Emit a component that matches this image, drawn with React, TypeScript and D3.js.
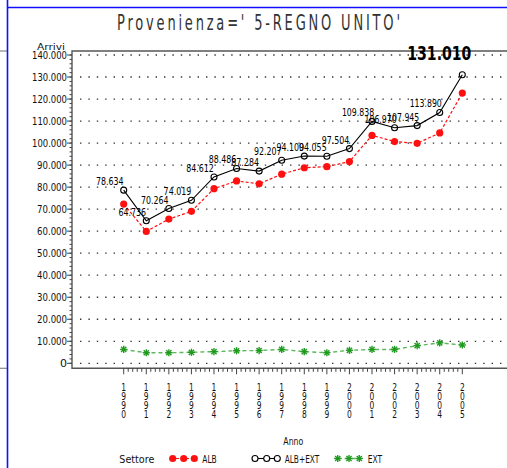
import React from 'react';
import * as d3 from 'd3';

const years = [1990, 1991, 1992, 1993, 1994, 1995, 1996, 1997, 1998, 1999, 2000, 2001, 2002, 2003, 2004, 2005];
const albExt = [78634, 64736, 70264, 74019, 84612, 88486, 87284, 92207, 94100, 94055, 97504, 109838, 106970, 107945, 113890, 131010];
const alb = [72300, 59900, 65500, 69000, 79300, 82800, 81500, 85900, 88800, 89300, 91600, 103500, 100700, 99900, 104600, 122700];
const ext = [6300, 4800, 4800, 5000, 5300, 5700, 5800, 6300, 5300, 4800, 5900, 6300, 6300, 8000, 9300, 8300];
const yTicks = [0, 10000, 20000, 30000, 40000, 50000, 60000, 70000, 80000, 90000, 100000, 110000, 120000, 130000, 140000];
const yMinor = d3.range(0, 140001, 2000);
const xMinor = d3.range(0, 76).map((i) => 1990 + i * 0.2);

const title = "Provenienza=' 5-REGNO UNITO'";
const yTitle = 'Arrivi';
const xTitle = 'Anno';
const legendTitle = 'Settore';
const seriesNames = ['ALB', 'ALB+EXT', 'EXT'];

const fmt = (v: number) => d3.format(',')(v).replace(/,/g, '.');

const FONT = "'DejaVu Sans', sans-serif";

function Star({ x, y, c }: { x: number; y: number; c: string }) {
  const s = 3.6;
  const d = s * 0.72;
  return (
    <g stroke={c} strokeWidth={1.4}>
      <line x1={x - s} y1={y} x2={x + s} y2={y} />
      <line x1={x} y1={y - s} x2={x} y2={y + s} />
      <line x1={x - d} y1={y - d} x2={x + d} y2={y + d} />
      <line x1={x - d} y1={y + d} x2={x + d} y2={y - d} />
    </g>
  );
}

export default function App() {
  const W = 507;
  const H = 468;
  const x = d3.scaleLinear().domain([1990, 2005]).range([123.7, 462.3]);
  const y = d3.scaleLinear().domain([0, 140000]).range([363.3, 55]);
  const frameL = 72;
  const frameT = 51;
  const frameB = 368.3;

  const line = d3
    .line<number>()
    .x((_, i) => x(years[i]))
    .y((d) => y(d));

  const red = '#ff1010';
  const green = '#1f9a1f';
  const greenLine = '#5cb85c';
  const sx = 0.62;

  return (
    <svg
      width={W}
      height={H}
      style={{ position: 'fixed', left: 0, top: 0, background: '#fff' }}
      fontFamily={FONT}
    >
      <rect x={0} y={0} width={W} height={H} fill="#fff" />
      {/* neighbouring panel edges */}
      <line x1={0} y1={frameT} x2={7} y2={frameT} stroke="#888" strokeWidth={1.2} />
      <line x1={0} y1={frameB} x2={7} y2={frameB} stroke="#888" strokeWidth={1.2} />
      {/* blue page borders */}
      <line x1={7.5} y1={7.5} x2={W} y2={7.5} stroke="#1010ff" strokeWidth={1.6} />
      <line x1={7.5} y1={0} x2={7.5} y2={H} stroke="#1010ff" strokeWidth={1.6} />

      {/* title */}
      <text
        transform={`translate(117,29.5) scale(${sx},1)`}
        x={0}
        y={0}
        fontSize={21}
        textLength={283 / sx}
        lengthAdjust="spacing"
        fill="#333"
      >
        {title}
      </text>

      {/* gridlines */}
      {yTicks.map((t) => (
        <line
          key={'g' + t}
          x1={frameL + 8}
          x2={W}
          y1={y(t)}
          y2={y(t)}
          stroke="#333"
          strokeWidth={1.3}
          strokeDasharray="1.4 7"
        />
      ))}

      {/* frame */}
      <path
        d={`M${W},${frameT}H${frameL}V${frameB}H${W}`}
        fill="none"
        stroke="#555"
        strokeWidth={1.4}
      />

      {/* y ticks */}
      {yMinor.map((t) => (
        <line key={'ym' + t} x1={frameL - 2.5} x2={frameL} y1={y(t)} y2={y(t)} stroke="#444" strokeWidth={1} />
      ))}
      {yTicks.map((t) => (
        <g key={'yt' + t}>
          <line x1={frameL - 5} x2={frameL} y1={y(t)} y2={y(t)} stroke="#444" strokeWidth={1} />
          <text
            x={67}
            y={y(t) + 4}
            textAnchor="end"
            fontSize={11}
            fill="#111"
            {...(t > 0 ? { textLength: fmt(t).length * 5, lengthAdjust: 'spacingAndGlyphs' } : {})}
          >
            {fmt(t)}
          </text>
        </g>
      ))}
      <text x={51} y={50} textAnchor="middle" fontSize={9.5} textLength={28} lengthAdjust="spacingAndGlyphs" fill="#111">
        {yTitle}
      </text>

      {/* x ticks */}
      {xMinor.map((t, i) => (
        <line
          key={'xm' + i}
          x1={x(t)}
          x2={x(t)}
          y1={frameB}
          y2={i % 5 === 0 ? frameB + 6 : frameB + 3.5}
          stroke="#444"
          strokeWidth={1}
        />
      ))}
      {years.map((yr) => (
        <g key={'xl' + yr}>
          {String(yr)
            .split('')
            .map((ch, j) => (
              <text
                key={j}
                x={x(yr)}
                y={391 + j * 9}
                textAnchor="middle"
                fontSize={10.5}
                textLength={4.8}
                lengthAdjust="spacingAndGlyphs"
                fill="#111"
              >
                {ch}
              </text>
            ))}
        </g>
      ))}
      <text x={293.3} y={445} textAnchor="middle" fontSize={10} textLength={20} lengthAdjust="spacingAndGlyphs" fill="#111">
        {xTitle}
      </text>

      {/* EXT series */}
      <path d={line(ext) || ''} fill="none" stroke={greenLine} strokeWidth={1.4} strokeDasharray="4 3" />
      {ext.map((v, i) => (
        <Star key={'e' + i} x={x(years[i])} y={y(v)} c={green} />
      ))}

      {/* ALB series */}
      <path d={line(alb) || ''} fill="none" stroke={red} strokeWidth={1.2} strokeDasharray="3 2" />
      {alb.map((v, i) => (
        <circle key={'a' + i} cx={x(years[i])} cy={y(v)} r={3.6} fill={red} />
      ))}

      {/* ALB+EXT series */}
      <path d={line(albExt) || ''} fill="none" stroke="#000" strokeWidth={1.1} />
      {albExt.map((v, i) => (
        <circle key={'t' + i} cx={x(years[i])} cy={y(v)} r={3} fill="none" stroke="#000" strokeWidth={1.1} />
      ))}
      {albExt.map((v, i) =>
        i === albExt.length - 1 ? (
          <text
            key={'l' + i}
            x={x(years[i]) - 23}
            y={y(v) - 14.6}
            textAnchor="middle"
            fontSize={20}
            fontWeight="bold"
            textLength={64}
            lengthAdjust="spacingAndGlyphs"
            fill="#000"
          >
            {fmt(v)}
          </text>
        ) : (
          <text
            key={'l' + i}
            x={x(years[i]) - 14}
            y={y(v) - 5}
            textAnchor="middle"
            fontSize={11}
            textLength={fmt(v).length * 4.6}
            lengthAdjust="spacingAndGlyphs"
            fill="#000"
          >
            {fmt(v)}
          </text>
        )
      )}

      {/* legend */}
      <text x={119.3} y={463} fontSize={10} textLength={35} lengthAdjust="spacingAndGlyphs" fill="#111">
        {legendTitle}
      </text>
      <line x1={171} x2={195} y1={458.5} y2={458.5} stroke={red} strokeWidth={1.2} strokeDasharray="3 2" />
      {[172.7, 183.7, 194.3].map((cx, i) => (
        <circle key={'lr' + i} cx={cx} cy={458.5} r={3.6} fill={red} />
      ))}
      <text x={202.3} y={463} fontSize={10} textLength={14.4} lengthAdjust="spacingAndGlyphs" fill="#111">
        {seriesNames[0]}
      </text>
      <line x1={255} x2={277.3} y1={458.5} y2={458.5} stroke="#000" strokeWidth={1.1} />
      {[255, 266.7, 277.3].map((cx, i) => (
        <circle key={'lb' + i} cx={cx} cy={458.5} r={3} fill="#fff" stroke="#000" strokeWidth={1.1} />
      ))}
      <text x={284.7} y={463} fontSize={10} textLength={34.6} lengthAdjust="spacingAndGlyphs" fill="#111">
        {seriesNames[1]}
      </text>
      <line x1={337.7} x2={359.3} y1={458.5} y2={458.5} stroke={greenLine} strokeWidth={1.4} strokeDasharray="4 3" />
      {[337.7, 349, 359.3].map((cx, i) => (
        <Star key={'lg' + i} x={cx} y={458.5} c={green} />
      ))}
      <text x={367.7} y={463} fontSize={10} textLength={14.3} lengthAdjust="spacingAndGlyphs" fill="#111">
        {seriesNames[2]}
      </text>
    </svg>
  );
}
